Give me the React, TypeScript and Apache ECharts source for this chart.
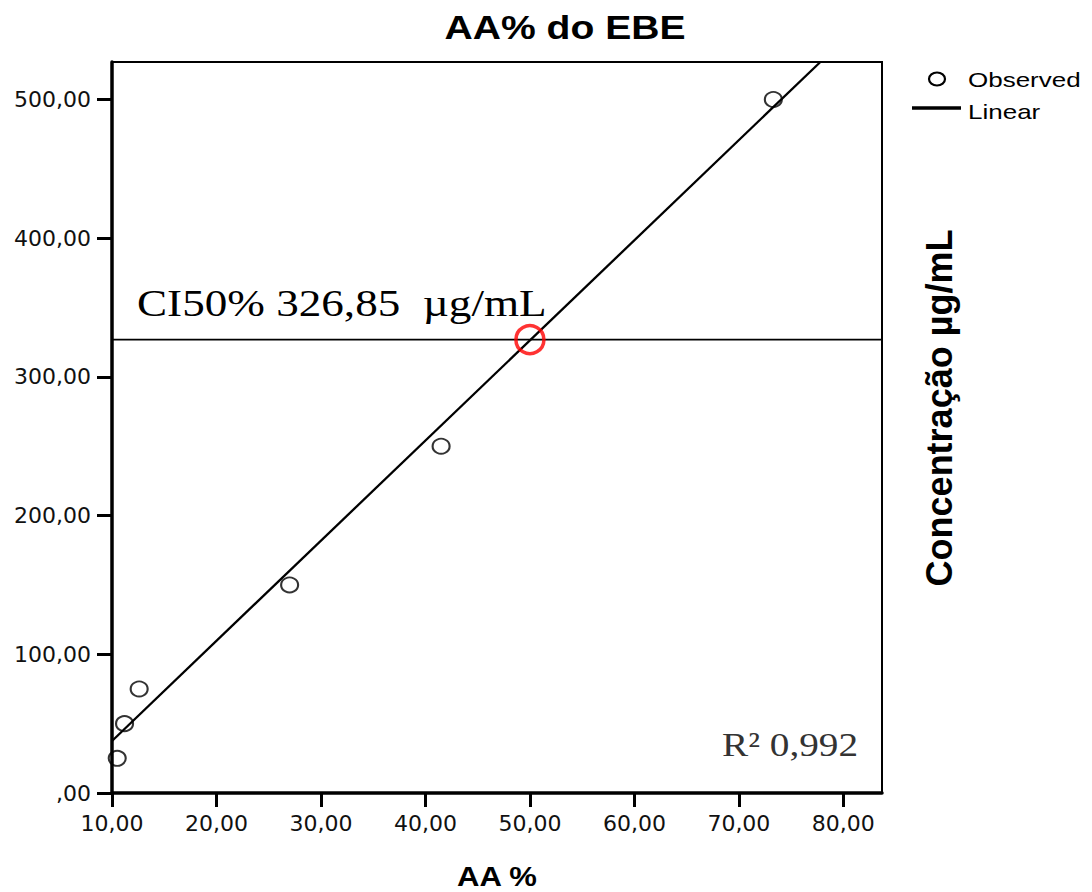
import React, { useEffect, useRef } from "react";
import * as echarts from "echarts";

// ---- data ----
const obsX = [10.5, 11.2, 12.6, 27.0, 41.5, 73.3];
const obsY = [25, 50, 75, 150, 250, 500];
const fitX = [10, 77.8];
const fitY = [37.5, 527];
const ci50X = 50;
const ci50Y = 326.85;
const xTicks = [10, 20, 30, 40, 50, 60, 70, 80];
const yTicks = [0, 100, 200, 300, 400, 500];
const xRange = [10, 83.7];
const yRange = [0, 527];

const fmt = (v: number) => (v === 0 ? ",00" : v.toFixed(2).replace(".", ","));

export default function App() {
  const ref = useRef<HTMLDivElement>(null);
  useEffect(() => {
    if (!ref.current) return;
    const chart = echarts.init(ref.current, undefined, { renderer: "svg" });
    const sans = "Liberation Sans, Arial, sans-serif";
    const serif = "Liberation Serif, Times New Roman, serif";
    chart.setOption({
      animation: false,
      backgroundColor: "#fff",
      grid: {
        left: 112,
        top: 62,
        right: 210,
        bottom: 99,
        show: true,
        borderColor: "#000",
        borderWidth: 2,
        backgroundColor: "transparent",
      },
      xAxis: {
        type: "value",
        min: xRange[0],
        max: xRange[1],
        interval: 10,
        splitLine: { show: false },
        axisLine: { show: true, onZero: false, lineStyle: { color: "#000", width: 3.5 } },
        axisTick: {
          show: true,
          length: 14,
          customValues: xTicks,
          lineStyle: { color: "#000", width: 3 },
        },
        axisLabel: {
          customValues: xTicks,
          formatter: fmt,
          fontFamily: "DejaVu Sans, Verdana, sans-serif",
          fontSize: 22,
          color: "#111",
          margin: 19,
        },
      },
      yAxis: {
        type: "value",
        min: yRange[0],
        max: yRange[1],
        interval: 100,
        splitLine: { show: false },
        axisLine: { show: true, onZero: false, lineStyle: { color: "#000", width: 3.5 } },
        axisTick: {
          show: true,
          length: 15,
          customValues: yTicks,
          lineStyle: { color: "#000", width: 3 },
        },
        axisLabel: {
          customValues: yTicks,
          formatter: fmt,
          fontFamily: "DejaVu Sans, Verdana, sans-serif",
          fontSize: 22,
          color: "#111",
          margin: 21,
          padding: [9, 0, 0, 0],
        },
      },
      series: [
        {
          name: "CI50 line",
          type: "line",
          data: [
            [xRange[0], ci50Y],
            [xRange[1], ci50Y],
          ],
          symbol: "none",
          lineStyle: { color: "#000", width: 1.8 },
          z: 2,
        },
        {
          name: "Linear",
          type: "line",
          data: fitX.map((x, i) => [x, fitY[i]]),
          symbol: "none",
          clip: true,
          lineStyle: { color: "#000", width: 2.3 },
          z: 3,
        },
        {
          name: "Observed",
          type: "scatter",
          data: obsX.map((x, i) => [x, obsY[i]]),
          symbol: "circle",
          symbolSize: [17, 15],
          itemStyle: { color: "rgba(0,0,0,0)", borderColor: "#000", borderWidth: 2 },
          z: 4,
        },
        {
          name: "CI50",
          type: "scatter",
          data: [[ci50X, ci50Y]],
          symbol: "circle",
          symbolSize: 28,
          itemStyle: { color: "rgba(0,0,0,0)", borderColor: "#ff0000", borderWidth: 3.5 },
          z: 5,
        },
      ],
      graphic: [
        {
          type: "text",
          x: 565,
          y: 27,
          scaleX: 1.15,
          style: {
            text: "AA% do EBE",
            fontFamily: sans,
            fontWeight: "bold",
            fontSize: 34,
            fill: "#000",
            align: "center",
            verticalAlign: "middle",
          },
        },
        {
          type: "text",
          x: 497,
          y: 877,
          scaleX: 1.15,
          style: {
            text: "AA %",
            fontFamily: sans,
            fontWeight: "bold",
            fontSize: 27,
            fill: "#000",
            align: "center",
            verticalAlign: "middle",
          },
        },
        {
          type: "text",
          x: 939,
          y: 408,
          rotation: Math.PI / 2,
          scaleY: 1.05,
          style: {
            text: "Concentração µg/mL",
            fontFamily: sans,
            fontWeight: "bold",
            fontSize: 36,
            fill: "#000",
            align: "center",
            verticalAlign: "middle",
          },
        },
        {
          type: "text",
          x: 137,
          y: 303,
          scaleX: 1.22,
          style: {
            text: "CI50% 326,85  µg/mL",
            fontFamily: serif,
            fontSize: 37,
            fill: "#000",
            align: "left",
            verticalAlign: "middle",
          },
        },
        {
          type: "text",
          x: 722,
          y: 745,
          scaleX: 1.19,
          style: {
            text: "R² 0,992",
            fontFamily: serif,
            fontSize: 33,
            fill: "#333",
            align: "left",
            verticalAlign: "middle",
          },
        },
        {
          type: "ellipse",
          shape: { cx: 937, cy: 79, rx: 8, ry: 6.5 },
          style: { fill: "none", stroke: "#000", lineWidth: 2.2 },
        },
        {
          type: "text",
          x: 968,
          y: 80,
          scaleX: 1.3,
          style: {
            text: "Observed",
            fontFamily: sans,
            fontSize: 20,
            fill: "#000",
            align: "left",
            verticalAlign: "middle",
          },
        },
        {
          type: "line",
          shape: { x1: 912, y1: 108, x2: 961, y2: 108 },
          style: { stroke: "#000", lineWidth: 3.5 },
        },
        {
          type: "text",
          x: 968,
          y: 112,
          scaleX: 1.3,
          style: {
            text: "Linear",
            fontFamily: sans,
            fontSize: 20,
            fill: "#000",
            align: "left",
            verticalAlign: "middle",
          },
        },
      ],
    });
    return () => chart.dispose();
  }, []);
  return (
    <div
      ref={ref}
      style={{ position: "absolute", left: 0, top: 0, width: 1092, height: 892 }}
    />
  );
}
